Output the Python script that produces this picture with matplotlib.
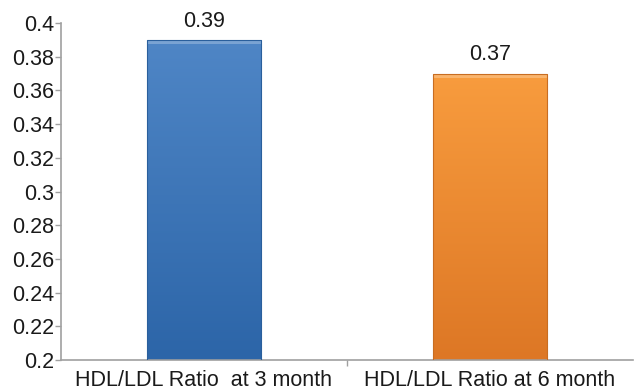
import numpy as np
import matplotlib
matplotlib.use("Agg")
import matplotlib.pyplot as plt
from matplotlib.colors import LinearSegmentedColormap

plt.rcParams['font.family'] = ['Liberation Sans', 'DejaVu Sans']

categories = ["HDL/LDL Ratio  at 3 month", "HDL/LDL Ratio at 6 month"]
values = [0.39, 0.37]
value_labels = ["0.39", "0.37"]
yticks = [0.2, 0.22, 0.24, 0.26, 0.28, 0.3, 0.32, 0.34, 0.36, 0.38, 0.4]
ytick_labels = ["0.2", "0.22", "0.24", "0.26", "0.28", "0.3", "0.32", "0.34", "0.36", "0.38", "0.4"]

top_colors = ["#4f86c6", "#f89c3e"]
bottom_colors = ["#2c65a8", "#dd7725"]
edge_colors = ["#2a5f9c", "#c86d22"]

fs = 15.5

fig = plt.figure(figsize=(6.44, 3.92), dpi=100)
ax = fig.add_axes([0.0947, 0.0816, 0.888, 0.8596])

x = np.arange(len(categories))
width = 0.4
ymin, ymax = 0.2, 0.4

bars = ax.bar(x, [v - ymin for v in values], width=width, bottom=ymin,
              color="none", edgecolor="none", zorder=2)

grad = np.linspace(0, 1, 256).reshape(-1, 1)
for bar, tc, bc, ec in zip(bars, top_colors, bottom_colors, edge_colors):
    x0, y0 = bar.get_x(), bar.get_y()
    w, h = bar.get_width(), bar.get_height()
    cmap = LinearSegmentedColormap.from_list("g", [bc, tc])
    im = ax.imshow(grad, extent=[x0, x0 + w, y0, y0 + h], origin="lower",
                   cmap=cmap, aspect="auto", zorder=2, interpolation="bicubic")
    clip = plt.Rectangle((x0, y0), w, h, transform=ax.transData)
    im.set_clip_path(clip)
    # bevelled top highlight
    ax.fill_between([x0, x0 + w], y0 + h - 0.0025, y0 + h,
                    color="white", alpha=0.25, lw=0, zorder=3)
    ax.add_patch(plt.Rectangle((x0, y0), w, h, fill=False,
                               edgecolor=ec, lw=0.8, zorder=4))

for xi, v, lab in zip(x, values, value_labels):
    ax.annotate(lab, (xi, v), xytext=(0, 6), textcoords="offset points",
                ha="center", va="bottom", fontsize=fs, color="#1a1a1a")

ax.set_xlim(-0.5, 1.5)
ax.set_ylim(ymin, ymax)
ax.set_yticks(yticks)
ax.set_yticklabels(ytick_labels, fontsize=fs, color="#1a1a1a")
ax.set_xticks(x)
ax.set_xticklabels(categories, fontsize=fs, color="#1a1a1a")
ax.tick_params(axis="x", length=0, pad=7)
ax.tick_params(axis="y", length=4, width=1, color="#a0a0a0", pad=1)
ax.set_xticks([0.5], minor=True)
ax.tick_params(axis="x", which="minor", length=4, width=1, color="#a0a0a0")

for s in ["top", "right"]:
    ax.spines[s].set_visible(False)
for s in ["left", "bottom"]:
    ax.spines[s].set_color("#a0a0a0")
    ax.spines[s].set_linewidth(1.2)

fig.savefig("out.png", dpi=100)
